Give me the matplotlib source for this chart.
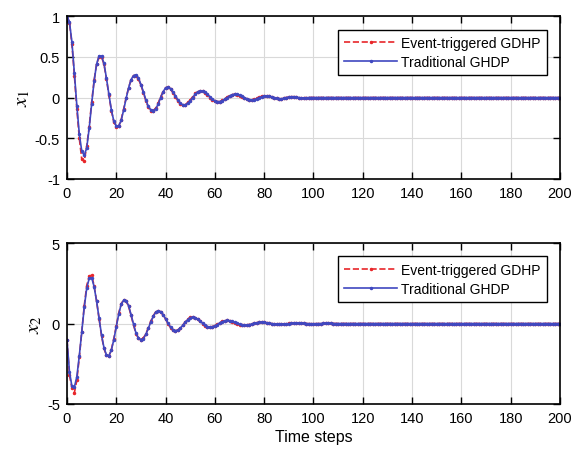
import matplotlib
matplotlib.use("Agg")
import matplotlib.pyplot as plt
import numpy as np

plt.rcParams['font.family'] = ['Liberation Sans', 'DejaVu Sans']
plt.rcParams['mathtext.fontset'] = 'stix'

# state x1, traditional GHDP (steps 0..97, rest ~0)
x1_ghdp = [1.0, 0.93, 0.68, 0.3, -0.1, -0.45, -0.66, -0.71, -0.62, -0.38,
           -0.08, 0.2, 0.41, 0.51, 0.51, 0.42, 0.24, 0.04, -0.15, -0.29,
           -0.35, -0.35, -0.28, -0.15, -0.01, 0.12, 0.22, 0.27, 0.28, 0.24,
           0.16, 0.07, -0.03, -0.11, -0.15, -0.16, -0.14, -0.08, 0.0, 0.07,
           0.12, 0.13, 0.11, 0.07, 0.02, -0.03, -0.07, -0.09, -0.09, -0.07,
           -0.04, 0.0, 0.04, 0.07, 0.08, 0.08, 0.07, 0.04, 0.01, -0.02,
           -0.04, -0.05, -0.05, -0.04, -0.02, 0.0, 0.02, 0.035, 0.04, 0.04,
           0.03, 0.015, 0.0, -0.015, -0.025, -0.03, -0.025, -0.015, 0.0, 0.01,
           0.02, 0.02, 0.02, 0.01, 0.0, -0.01, -0.015, -0.015, -0.01, 0.0,
           0.005, 0.01, 0.01, 0.005, 0.0, -0.005, -0.005, -0.005] + [0.0] * 103

x1_event = [1.0, 0.92, 0.66, 0.27, -0.14, -0.5, -0.76, -0.78, -0.6, -0.36,
            -0.06, 0.21, 0.41, 0.5, 0.5, 0.41, 0.23, 0.03, -0.16, -0.3,
            -0.36, -0.35, -0.27, -0.14, 0.0, 0.12, 0.22, 0.27, 0.27, 0.23,
            0.15, 0.06, -0.04, -0.12, -0.16, -0.16, -0.13, -0.07, 0.01, 0.07,
            0.12, 0.13, 0.1, 0.06, 0.01, -0.04, -0.08, -0.09, -0.09, -0.06,
            -0.03, 0.01, 0.05, 0.07, 0.08, 0.08, 0.06, 0.03, 0.0, -0.03,
            -0.045, -0.05, -0.05, -0.035, -0.015, 0.005, 0.025, 0.035, 0.04, 0.035,
            0.025, 0.01, -0.005, -0.02, -0.03, -0.03, -0.02, -0.01, 0.005, 0.015,
            0.02, 0.02, 0.015, 0.005, -0.005, -0.01, -0.015, -0.015, -0.005, 0.0,
            0.005, 0.01, 0.01, 0.005, 0.0, -0.005, -0.005, 0.0] + [0.0] * 103

# state x2
x2_ghdp = [-1.0, -3.0, -3.9, -3.95, -3.3, -2.0, -0.5, 1.0, 2.2, 2.8,
           2.85, 2.3, 1.4, 0.35, -0.7, -1.5, -1.95, -2.0, -1.65, -1.0,
           -0.2, 0.6, 1.2, 1.45, 1.42, 1.1, 0.55, -0.05, -0.6, -0.9,
           -1.0, -0.93, -0.68, -0.3, 0.1, 0.45, 0.7, 0.8, 0.74, 0.56,
           0.3, 0.02, -0.22, -0.39, -0.45, -0.41, -0.285, -0.11, 0.08, 0.25,
           0.37, 0.4, 0.37, 0.28, 0.15, 0.01, -0.11, -0.19, -0.22, -0.2,
           -0.14, -0.06, 0.04, 0.12, 0.17, 0.19, 0.175, 0.13, 0.07, 0.01,
           -0.05, -0.09, -0.1, -0.09, -0.065, -0.03, 0.01, 0.05, 0.07, 0.08,
           0.075, 0.055, 0.03, 0.0, -0.025, -0.045, -0.05, -0.045, -0.035, -0.015,
           0.0, 0.015, 0.025, 0.03, 0.028, 0.02, 0.01, 0.0, -0.01, -0.015,
           -0.015, -0.01, -0.005, 0.0, 0.005, 0.01, 0.01, 0.005] + [0.0] * 93

x2_event = [-1.0, -3.2, -4.0, -4.3, -3.5, -2.1, -0.5, 1.1, 2.35, 2.95,
            3.0, 2.35, 1.4, 0.3, -0.75, -1.55, -1.98, -2.02, -1.62, -0.95,
            -0.15, 0.65, 1.23, 1.47, 1.4, 1.06, 0.5, -0.1, -0.63, -0.92,
            -1.0, -0.9, -0.64, -0.26, 0.14, 0.48, 0.72, 0.8, 0.72, 0.53,
            0.27, -0.01, -0.25, -0.4, -0.45, -0.4, -0.27, -0.09, 0.1, 0.27,
            0.38, 0.4, 0.36, 0.26, 0.13, -0.01, -0.13, -0.2, -0.22, -0.19,
            -0.13, -0.04, 0.05, 0.13, 0.18, 0.19, 0.17, 0.12, 0.06, 0.0,
            -0.06, -0.09, -0.1, -0.085, -0.06, -0.02, 0.02, 0.055, 0.075, 0.08,
            0.07, 0.05, 0.02, -0.01, -0.03, -0.045, -0.05, -0.04, -0.03, -0.01,
            0.005, 0.02, 0.028, 0.03, 0.025, 0.015, 0.005, -0.005, -0.01, -0.015,
            -0.012, -0.008, -0.003, 0.002, 0.006, 0.008, 0.006, 0.003] + [0.0] * 93

steps = np.arange(len(x1_ghdp))

red = '#e8262a'
blue = '#4048c0'

fig = plt.figure(figsize=(5.8, 4.52), dpi=100)
ax1 = fig.add_axes([0.1155, 0.602, 0.85, 0.360])
ax2 = fig.add_axes([0.1155, 0.104, 0.85, 0.356])


def style_axis(ax, yticks, ylabel):
    ax.set_xlim(0, 200)
    ax.set_xticks(np.arange(0, 201, 20))
    ax.set_yticks(yticks)
    ax.set_ylim(yticks[0], yticks[-1])
    ax.grid(True, color='#d9d9d9', linewidth=0.8)
    ax.set_axisbelow(True)
    ax.tick_params(direction='in', top=True, right=True, labelsize=10.5,
                   length=5, width=1.0, pad=5)
    for sp in ax.spines.values():
        sp.set_linewidth(1.2)
    ax.set_ylabel(ylabel, fontsize=15, labelpad=2)
    ax.legend(loc='upper right', fontsize=10, frameon=True, fancybox=False,
              edgecolor='black', framealpha=1, handlelength=3.8,
              borderpad=0.45, labelspacing=0.35, handletextpad=0.3,
              bbox_to_anchor=(0.988, 0.96))


for ax, ev, gh, yt, lab in [(ax1, x1_event, x1_ghdp, [-1, -0.5, 0, 0.5, 1], '$x_1$'),
                            (ax2, x2_event, x2_ghdp, [-5, 0, 5], '$x_2$')]:
    ax.plot(steps, ev, '--', color=red, marker='.', markersize=3,
            linewidth=1.2, label='Event-triggered GDHP')
    ax.plot(steps, gh, '-', color=blue, marker='.', markersize=3,
            linewidth=1.2, label='Traditional GHDP')
    style_axis(ax, yt, lab)

ax1.set_yticklabels(['-1', '-0.5', '0', '0.5', '1'])
ax2.set_yticklabels(['-5', '0', '5'])
ax2.set_xlabel('Time steps', fontsize=11.5, labelpad=3)

fig.savefig('out.png', dpi=100)
